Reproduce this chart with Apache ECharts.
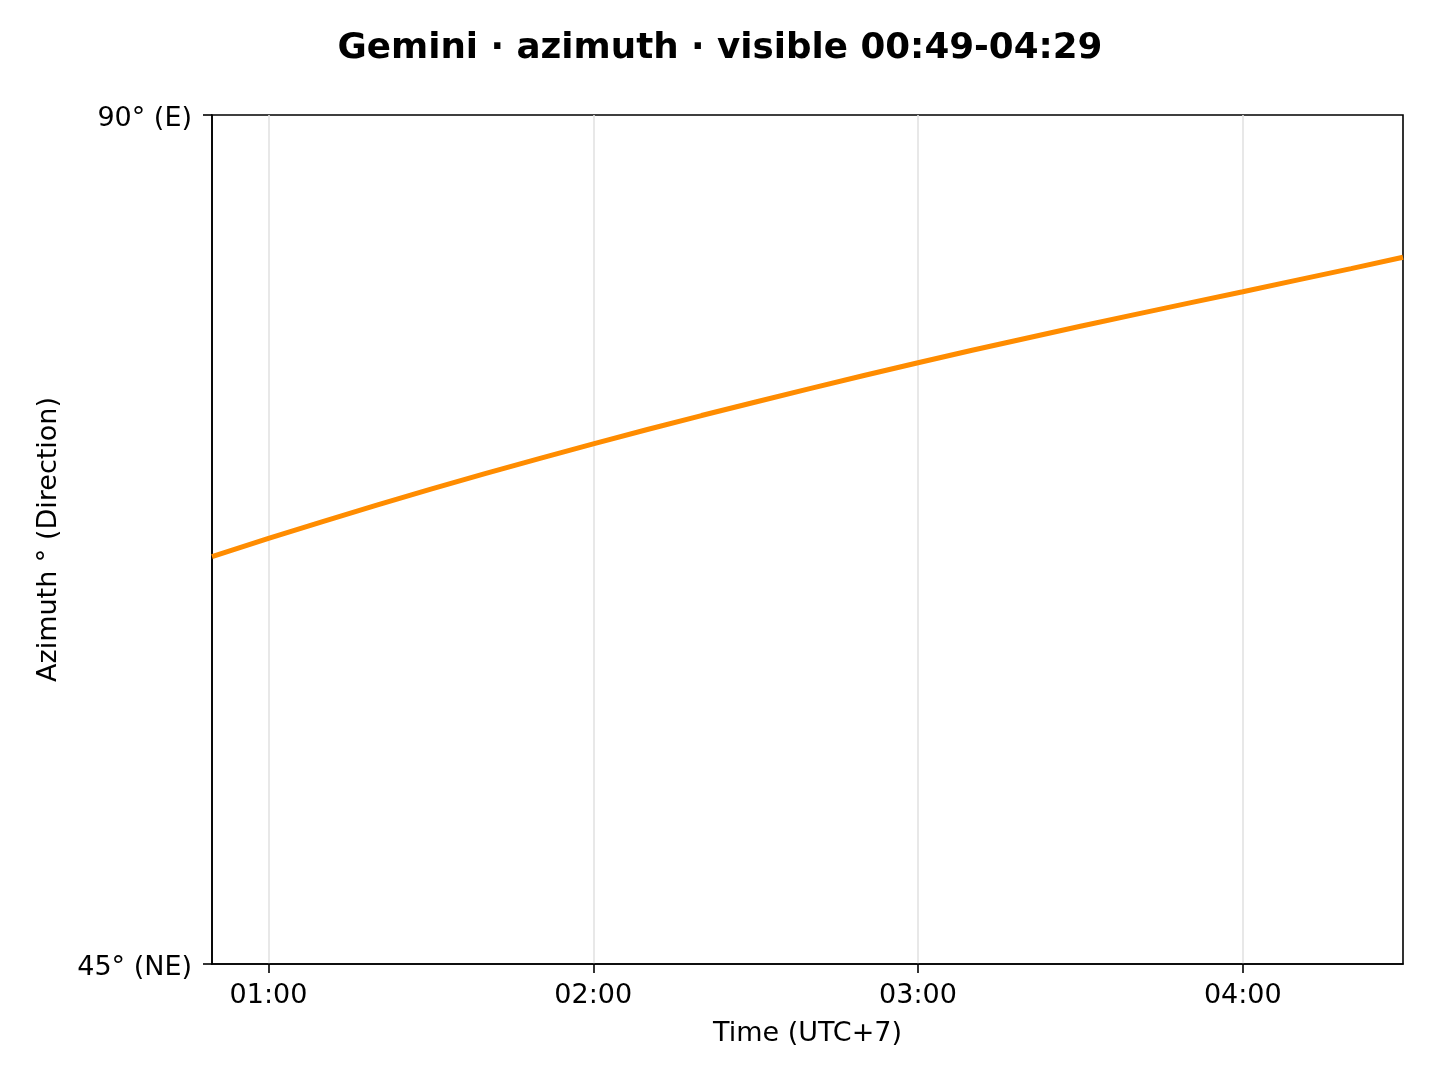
<!DOCTYPE html>
<html>
<head>
<meta charset="utf-8">
<style>
  html, body { margin: 0; padding: 0; background: #fff; }
  #chart { width: 1440px; height: 1080px; }
</style>
<script src="https://cdn.jsdelivr.net/npm/echarts@6/dist/echarts.min.js"></script>
</head>
<body>
<div id="chart"></div>
<script>
// Time in minutes after midnight (UTC+7)
var timeMinutes = [49.56, 60, 70, 80, 90, 100, 110, 120, 130, 140, 150, 160, 170, 180, 190, 200, 210, 220, 230, 240, 250, 260, 269.6];
// Azimuth in degrees
var azimuthDeg = [66.59, 67.56, 68.45, 69.32, 70.17, 70.99, 71.79, 72.57, 73.33, 74.07, 74.79, 75.50, 76.19, 76.87, 77.53, 78.17, 78.80, 79.42, 80.03, 80.63, 81.25, 81.86, 82.46];

var xTickValues = [60, 120, 180, 240];
var xTickLabels = ['01:00', '02:00', '03:00', '04:00'];
var yTickValues = [45, 90];
var yTickLabels = ['45° (NE)', '90° (E)'];

var xMin = 49.56, xMax = 269.6;
var yMin = 45, yMax = 90;

var titleText = 'Gemini · azimuth · visible 00:49-04:29';
var xName = 'Time (UTC+7)';
var yName = 'Azimuth ° (Direction)';

var seriesData = timeMinutes.map(function (t, i) { return [t, azimuthDeg[i]]; });

var FONT = 'DejaVu Sans';
var FS = 27;
var chart = echarts.init(document.getElementById('chart'), null, { renderer: 'canvas' });
chart.setOption({
  backgroundColor: '#ffffff',
  animation: false,
  title: {
    text: titleText,
    left: 'center',
    top: 26,
    textStyle: { fontFamily: FONT, fontWeight: 'bold', fontSize: 35.7, color: '#000' }
  },
  grid: {
    left: 212, right: 37, top: 115, bottom: 116,
    show: true, borderColor: '#000', borderWidth: 1.6, backgroundColor: 'transparent'
  },
  xAxis: {
    type: 'value',
    min: xMin, max: xMax,
    name: xName,
    nameLocation: 'middle',
    nameGap: 56,
    nameTextStyle: { fontFamily: FONT, fontSize: FS, color: '#000' },
    axisLine: { show: true, onZero: false, lineStyle: { color: '#000', width: 1.6 } },
    axisTick: { show: true, inside: false, length: 9, customValues: xTickValues, lineStyle: { color: '#000', width: 1.6 } },
    axisLabel: {
      show: true, margin: 18, customValues: xTickValues,
      fontFamily: FONT, fontSize: FS, color: '#000',
      formatter: function (v) {
        var i = xTickValues.indexOf(v);
        return i >= 0 ? xTickLabels[i] : '';
      }
    },
    splitLine: { show: true, lineStyle: { color: '#e3e3e3', width: 1.6 } }
  },
  yAxis: {
    type: 'value',
    min: yMin, max: yMax, interval: 45,
    name: yName,
    nameLocation: 'middle',
    nameRotate: 90,
    nameGap: 150,
    nameTextStyle: { fontFamily: FONT, fontSize: FS, color: '#000' },
    axisLine: { show: true, onZero: false, lineStyle: { color: '#000', width: 1.6 } },
    axisTick: { show: true, inside: false, length: 9, customValues: yTickValues, lineStyle: { color: '#000', width: 1.6 } },
    axisLabel: {
      show: true, margin: 20, customValues: yTickValues,
      fontFamily: FONT, fontSize: FS, color: '#000',
      rich: {
        t: { fontFamily: FONT, fontSize: FS, color: '#000', padding: [7, 0, 0, 0] }
      },
      formatter: function (v) {
        var i = yTickValues.indexOf(v);
        return i >= 0 ? '{t|' + yTickLabels[i] + '}' : '';
      }
    },
    splitLine: { show: false }
  },
  series: [{
    type: 'line',
    data: seriesData,
    showSymbol: false,
    smooth: false,
    clip: true,
    lineStyle: { color: '#ff8c00', width: 5 },
    itemStyle: { color: '#ff8c00' }
  }]
});
</script>
</body>
</html>
